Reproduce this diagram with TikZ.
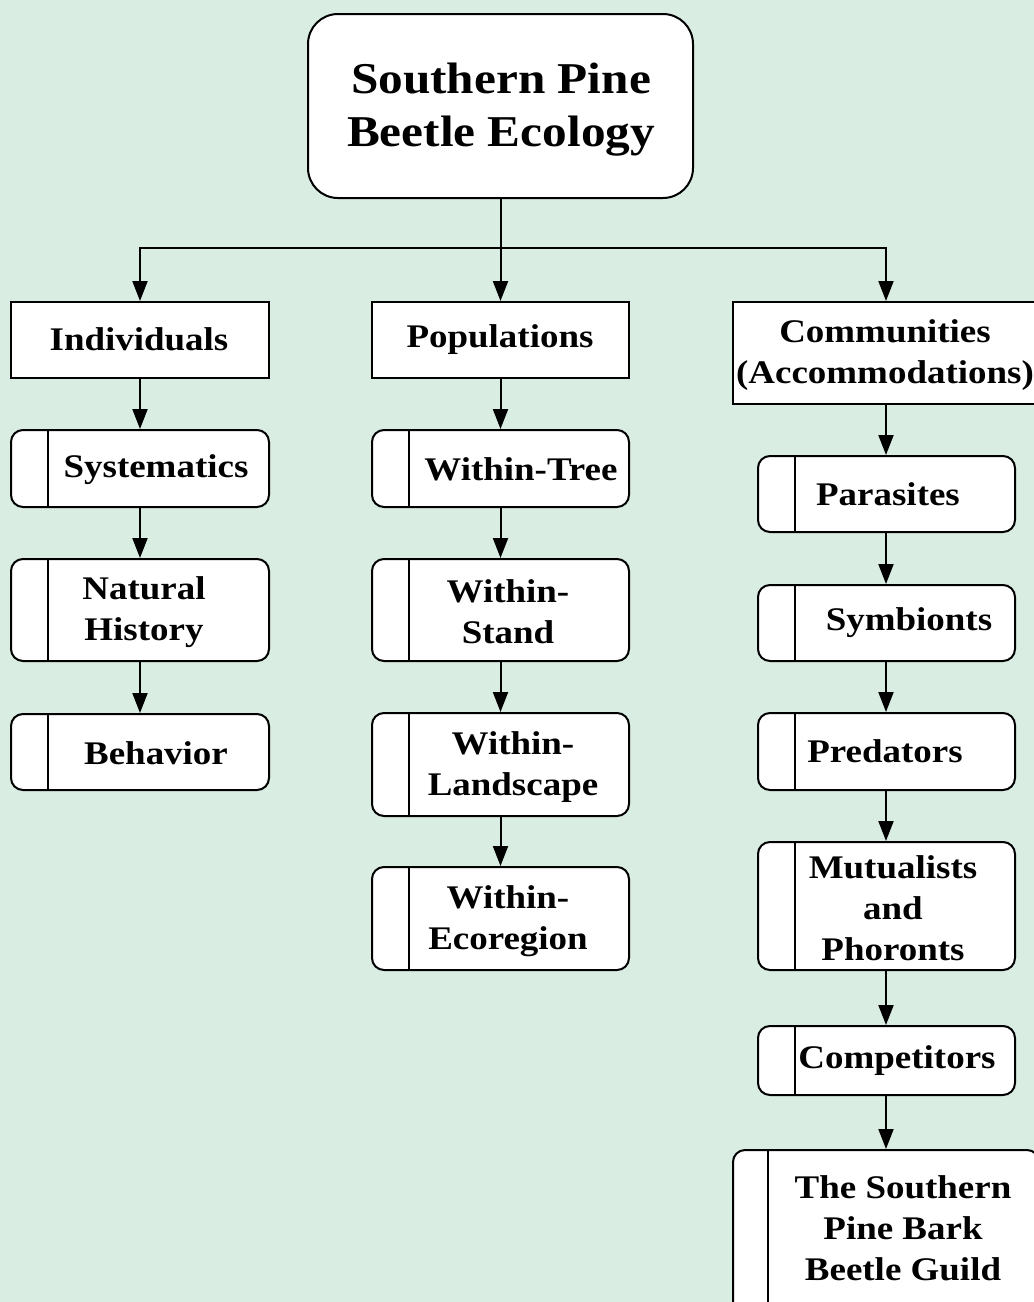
\documentclass[tikz,border=0pt]{standalone}
\usepackage{fontspec}
\setmainfont{Liberation Serif}[FakeStretch=1.12]
\usetikzlibrary{arrows.meta}
\definecolor{bgc}{RGB}{217,237,226}
\tikzset{
  base/.style={draw=black, line width=2pt, fill=white, inner sep=0pt},
  plainbox/.style={base},
  rbox/.style={base, rounded corners=12pt,
    path picture={\draw[line width=2pt] ([xshift=37pt]path picture bounding box.north west) -- ([xshift=37pt]path picture bounding box.south west);}},
  topbox/.style={base, rounded corners=30pt},
  lbl/.style={font=\fontsize{33}{41}\selectfont\bfseries, align=center, inner sep=0pt, yshift=-1pt},
  ttl/.style={font=\fontsize{44}{53}\selectfont\bfseries, align=center, inner sep=0pt, yshift=-5pt},
  arr/.style={line width=2pt, -{Triangle[length=20pt,width=15pt]}},
  ln/.style={line width=2pt}
}
\begin{document}
\begin{tikzpicture}[x=1pt,y=-1pt]
\fill[bgc] (0,0) rectangle (1034,1302);
\useasboundingbox (0,0) rectangle (1034,1302);
\clip (0,0) rectangle (1034,1302);
% title
\node[topbox, minimum width=385pt, minimum height=184pt] (top) at (500.5,106) {};
\node[ttl] (ttop) at (501,105) {Southern Pine\\Beetle Ecology};
% level 1
\node[plainbox, minimum width=258pt, minimum height=76pt] (ind) at (140,340) {};
\node[lbl] (tind) at (139,338) {Individuals};
\node[plainbox, minimum width=257pt, minimum height=76pt] (pop) at (500.5,340) {};
\node[lbl] (tpop) at (500,339) {Populations};
\node[plainbox, minimum width=306pt, minimum height=102pt] (com) at (886,353) {};
\node[lbl] (tcom) at (885,354) {Communities\\(Accommodations)};
% column 1
\node[rbox, minimum width=258pt, minimum height=77pt] (sys) at (140,468.5) {};
\node[lbl] (tsys) at (156,469) {Systematics};
\node[rbox, minimum width=258pt, minimum height=102pt] (nat) at (140,610) {};
\node[lbl] (tnat) at (144,611) {Natural\\History};
\node[rbox, minimum width=258pt, minimum height=76pt] (beh) at (140,752) {};
\node[lbl] (tbeh) at (156,752) {Behavior};
% column 2
\node[rbox, minimum width=257pt, minimum height=77pt] (wt) at (500.5,468.5) {};
\node[lbl] (twt) at (521,468) {Within-Tree};
\node[rbox, minimum width=257pt, minimum height=102pt] (ws) at (500.5,610) {};
\node[lbl] (tws) at (508,611) {Within-\\Stand};
\node[rbox, minimum width=257pt, minimum height=103pt] (wl) at (500.5,764.5) {};
\node[lbl] (twl) at (513,766) {Within-\\Landscape};
\node[rbox, minimum width=257pt, minimum height=103pt] (we) at (500.5,918.5) {};
\node[lbl] (twe) at (508,920) {Within-\\Ecoregion};
% column 3
\node[rbox, minimum width=257pt, minimum height=76pt] (par) at (886.5,494) {};
\node[lbl] (tpar) at (888,493) {Parasites};
\node[rbox, minimum width=257pt, minimum height=76pt] (sym) at (886.5,623) {};
\node[lbl] (tsym) at (909,622) {Symbionts};
\node[rbox, minimum width=257pt, minimum height=77pt] (pre) at (886.5,751.5) {};
\node[lbl] (tpre) at (885,750) {Predators};
\node[rbox, minimum width=257pt, minimum height=128pt] (mut) at (886.5,906) {};
\node[lbl] (tmut) at (893,907) {Mutualists\\and\\Phoronts};
\node[rbox, minimum width=257pt, minimum height=69pt] (cmp) at (886.5,1060.5) {};
\node[lbl] (tcmp) at (897,1060) {Competitors};
\node[rbox, minimum width=306pt, minimum height=200pt, path picture={\draw[line width=2pt] ([xshift=35pt]path picture bounding box.north west) -- ([xshift=35pt]path picture bounding box.south west);}] (gld) at (886,1250) {};
\node[lbl] (tgld) at (903,1227) {The Southern\\Pine Bark\\Beetle Guild};
% connectors
\coordinate (j) at (500.5,248);
\draw[ln] (top.south) -- (j);
\draw[arr] (j) -| (ind.north);
\draw[arr] (j) -- (pop.north);
\draw[arr] (j) -| (com.north);
\draw[arr] (ind.south) -- (sys.north);
\draw[arr] (sys.south) -- (nat.north);
\draw[arr] (nat.south) -- (beh.north);
\draw[arr] (pop.south) -- (wt.north);
\draw[arr] (wt.south) -- (ws.north);
\draw[arr] (ws.south) -- (wl.north);
\draw[arr] (wl.south) -- (we.north);
\draw[arr] (com.south) -- (com.south |- par.north);
\draw[arr] (par.south -| com.south) -- (com.south |- sym.north);
\draw[arr] (sym.south -| com.south) -- (com.south |- pre.north);
\draw[arr] (pre.south -| com.south) -- (com.south |- mut.north);
\draw[arr] (mut.south -| com.south) -- (com.south |- cmp.north);
\draw[arr] (cmp.south -| com.south) -- (gld.north);
\end{tikzpicture}
\end{document}
